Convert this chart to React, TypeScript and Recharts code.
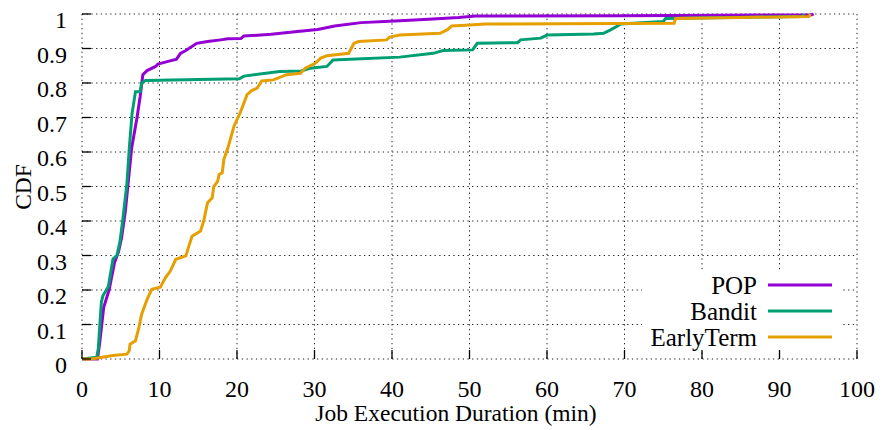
import React from 'react';
import {
  LineChart,
  Line,
  XAxis,
  YAxis,
  CartesianGrid,
  Customized,
} from 'recharts';

// Job execution durations (min) and cumulative fraction for each scheduler
const popDuration = [0, 2.0, 2.3, 2.8, 3.5, 4.2, 4.7, 5.1, 5.6, 6.0, 6.4, 7.1, 7.5, 7.85, 8.4, 9.5, 9.8, 11, 12.2, 12.7, 13.4, 14.8, 16.2, 17.9, 18.8, 20.5, 20.9, 24.4, 27.8, 30.4, 32.6, 36, 40.4, 44.7, 48.6, 50.8, 70, 90, 94.2, 94.4];
const popCdf = [0, 0, 0.05, 0.15, 0.2, 0.28, 0.31, 0.35, 0.43, 0.52, 0.61, 0.7, 0.76, 0.824, 0.836, 0.848, 0.855, 0.862, 0.869, 0.886, 0.894, 0.915, 0.92, 0.925, 0.928, 0.929, 0.936, 0.941, 0.949, 0.955, 0.965, 0.975, 0.98, 0.985, 0.99, 0.994, 0.995, 0.997, 0.998, 1];

const banditDuration = [0, 1.9, 2.1, 2.5, 2.7, 3.4, 4.0, 4.5, 4.9, 5.3, 5.8, 6.1, 6.45, 6.9, 7.5, 7.7, 8.2, 20.3, 20.9, 25.5, 28.3, 29.5, 31.6, 32.4, 41, 45.3, 46.6, 50.4, 51, 56.2, 56.6, 59.2, 60, 66, 67.3, 68.2, 69.1, 69.5, 75, 75.3, 93, 93.1];
const banditCdf = [0, 0.005, 0.03, 0.165, 0.183, 0.21, 0.29, 0.3, 0.34, 0.41, 0.51, 0.61, 0.71, 0.775, 0.775, 0.8, 0.807, 0.812, 0.82, 0.833, 0.835, 0.843, 0.848, 0.867, 0.875, 0.886, 0.894, 0.896, 0.915, 0.917, 0.925, 0.93, 0.939, 0.942, 0.944, 0.954, 0.965, 0.971, 0.978, 0.987, 0.993, 1];

const earlyDuration = [0, 1.2, 4.0, 5.8, 6.1, 6.2, 6.9, 7.3, 7.7, 8.4, 9.0, 10.1, 10.8, 11.4, 12.1, 13.4, 13.8, 14.2, 15.3, 15.7, 16.2, 16.8, 17.0, 17.5, 17.7, 18.1, 18.3, 18.8, 19.6, 20.4, 21.3, 21.9, 22.6, 23.2, 24.7, 26.4, 28.2, 28.8, 30.1, 30.8, 31.6, 34.4, 35.1, 35.7, 39.3, 39.7, 41, 46.2, 47.1, 47.7, 50, 52, 76.4, 76.6, 85, 93.8, 94.0];
const earlyCdf = [0, 0, 0.01, 0.014, 0.024, 0.043, 0.053, 0.087, 0.13, 0.173, 0.202, 0.208, 0.237, 0.255, 0.289, 0.299, 0.328, 0.356, 0.371, 0.4, 0.453, 0.467, 0.5, 0.515, 0.535, 0.54, 0.578, 0.61, 0.674, 0.713, 0.766, 0.778, 0.785, 0.806, 0.809, 0.824, 0.828, 0.843, 0.857, 0.872, 0.879, 0.886, 0.915, 0.92, 0.925, 0.933, 0.939, 0.944, 0.954, 0.965, 0.968, 0.971, 0.973, 0.987, 0.99, 0.993, 1];

const xTicks = [0, 10, 20, 30, 40, 50, 60, 70, 80, 90, 100];
const yTicks = [0, 0.1, 0.2, 0.3, 0.4, 0.5, 0.6, 0.7, 0.8, 0.9, 1];

const toPoints = (xs: number[], ys: number[]) => xs.map((x, i) => ({ x, y: ys[i] }));

const series = [
  { name: 'POP', color: '#9400D3', data: toPoints(popDuration, popCdf) },
  { name: 'Bandit', color: '#009E73', data: toPoints(banditDuration, banditCdf) },
  { name: 'EarlyTerm', color: '#E69F00', data: toPoints(earlyDuration, earlyCdf) },
];

const FONT = '"Liberation Serif", "Times New Roman", serif';
const FS = 24;

const XTick = (props: any) => {
  const { x, y, payload } = props;
  return (
    <g>
      <line x1={x} x2={x} y1={y} y2={y - 9} stroke="#000" strokeWidth={1.3} />
      <text x={x} y={y + 38} textAnchor="middle" fontFamily={FONT} fontSize={FS} fill="#000">
        {payload.value}
      </text>
    </g>
  );
};

// gnuplot-style labels sit a little below their tick
const YTick = (props: any) => {
  const { x, y, payload } = props;
  return (
    <g>
      <line x1={x} x2={x + 9} y1={y} y2={y} stroke="#000" strokeWidth={1.3} />
      <text x={x - 15} y={y + 14} textAnchor="end" fontFamily={FONT} fontSize={FS} fill="#000">
        {payload.value}
      </text>
    </g>
  );
};

const Overlay = () => (
  <g fontFamily={FONT} fontSize={23.5} fill="#000">
    <text x={456} y={421} textAnchor="middle">Job Execution Duration (min)</text>
    <text x={0} y={0} textAnchor="middle" transform="translate(31,187) rotate(-90)">CDF</text>
    <rect x={642} y={272} width={201} height={78} fill="#fff" />
    {series.map((s, i) => (
      <g key={s.name}>
        <text x={757} y={294 + i * 26} textAnchor="end" fontSize={25}>{s.name}</text>
        <line x1={768} x2={832} y1={285 + i * 26} y2={285 + i * 26} stroke={s.color} strokeWidth={3} />
      </g>
    ))}
  </g>
);

export default function App() {
  return (
    <div style={{ position: 'absolute', left: 0, top: 0, background: '#fff' }}>
      <LineChart width={882} height={430} margin={{ top: 14, right: 25, bottom: 0, left: 0 }}>
        <CartesianGrid
          stroke="#222"
          strokeWidth={1}
          strokeDasharray="1.3 3.4"
          horizontalValues={yTicks}
          verticalValues={xTicks}
        />
        <XAxis
          type="number"
          dataKey="x"
          domain={[0, 100]}
          ticks={xTicks}
          height={71}
          axisLine={false}
          tickLine={false}
          tickSize={0}
          tickMargin={0}
          tick={<XTick />}
          allowDataOverflow
        />
        <YAxis
          type="number"
          dataKey="y"
          domain={[0, 1]}
          ticks={yTicks}
          width={82}
          axisLine={false}
          tickLine={false}
          tickSize={0}
          tickMargin={0}
          tick={<YTick />}
        />
        {series.map((s) => (
          <Line
            key={s.name}
            data={s.data}
            dataKey="y"
            name={s.name}
            type="linear"
            stroke={s.color}
            strokeWidth={3}
            dot={false}
            isAnimationActive={false}
          />
        ))}
        <Customized component={Overlay} />
      </LineChart>
    </div>
  );
}
